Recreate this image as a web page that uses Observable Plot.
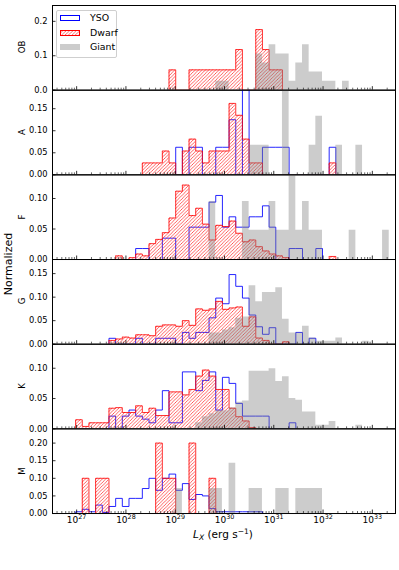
<!DOCTYPE html>
<html><head><meta charset="utf-8">
<script src="https://cdn.jsdelivr.net/npm/d3@7"></script>
<script src="https://cdn.jsdelivr.net/npm/@observablehq/plot@0.6"></script>
<style>
body{margin:0;background:#fff;}
#chart{position:relative;width:399px;height:570px;font-family:"DejaVu Sans",sans-serif;overflow:hidden;}
#chart svg.plotsvg{position:absolute;left:0;top:0;overflow:visible;}
.lab{position:absolute;white-space:nowrap;color:#000;z-index:5;}
.rot{transform:translate(-50%,-50%) rotate(-90deg);}
#legend{position:absolute;left:56px;top:10px;width:61px;height:48px;box-sizing:border-box;border:1px solid #cfcfcf;border-radius:2px;background:rgba(255,255,255,0.85);z-index:6;font-size:9.4px;}
.lrow{position:absolute;left:3px;height:10px;}
.lrow svg{position:absolute;left:0;top:2px;}
.lrow span{position:absolute;left:30px;top:-1px;}
</style></head>
<body>
<div id="chart"></div>
<script>
// ---- data (normalized histogram heights on a common log10 L_X bin grid) ----
const classes = ["OB", "A", "F", "G", "K", "M"];
const seriesNames = ["YSO", "Dwarf", "Giant"];
const binStart = 28.333;   // log10 of left edge of bin k = 0
const binWidth = 0.1354;   // dex per bin

const ysoOB   = {k0: 0, h: []};
const dwarfOB = {k0: 4, h: [0.059,0,0,0.059,0.059,0.059,0.059,0.059,0.059,0.059,0.118,0,0,0.176,0.118,0.059,0.059]};
const giantOB = {k0: 11, h: [0.026,0.026,0,0,0,0,0.105,0.079,0.132,0.105,0.105,0.026,0.079,0.132,0.053,0.053,0.026,0.026,0,0.026]};

const ysoA   = {k0: 5, h: [0.0625,0,0.0625,0.0625,0,0,0.0625,0.0625,0.125,0,0.25,0,0,0.0625,0.0625,0.0625,0.0625,0,0,0,0,0,0,0.0625]};
const dwarfA = {k0: 0, h: [0.027,0.027,0.027,0.054,0.027,0,0.054,0.081,0.054,0.027,0.054,0.054,0.054,0.162,0.135,0.081,0.027,0.027,0,0,0,0,0,0,0,0,0,0,0.027]};
const giantA = {k0: 16, h: [0.067,0.067,0.067,0,0,0.467,0,0,0,0.067,0.133,0,0,0.067,0,0,0.067]};

const ysoF   = {k0: -1, h: [0.018,0.018,0,0,0.035,0.035,0,0,0.053,0.053,0.053,0.094,0.105,0.053,0.07,0.053,0.053,0.07,0.07,0.088,0.053,0,0,0.018,0.018,0,0,0.018]};
const dwarfF = {k0: -4, h: [0.006,0,0.003,0.009,0.006,0.026,0.033,0.044,0.068,0.112,0.122,0.072,0.084,0.058,0.032,0.056,0.054,0.063,0.043,0.029,0.032,0.021,0.014,0.009,0.006,0.003,0,0,0,0,0,0,0.005]};
const giantF = {k0: 10, h: [0.095,0,0,0,0,0.095,0.048,0.048,0.048,0.095,0.048,0.048,0.143,0.048,0.095,0.048,0.048,0,0,0,0,0.048,0,0,0,0,0.048]};

const ysoG   = {k0: -5, h: [0.0125,0,0,0,0.0125,0,0,0.0125,0.0125,0.0125,0,0.025,0.0125,0.025,0.025,0.056,0.098,0.086,0.148,0.123,0.098,0.062,0.037,0.021,0.035,0,0,0,0.025,0,0.0125]};
const dwarfG = {k0: -5, h: [0.008,0.011,0.015,0.013,0.02,0.02,0.018,0.038,0.041,0.041,0.038,0.05,0.04,0.075,0.072,0.075,0.091,0.074,0.077,0.079,0.038,0.058,0.013,0.008,0,0,0.005]};
const giantG = {k0: 10, h: [0.024,0.024,0.03,0.035,0.055,0.058,0.124,0.09,0.11,0.11,0.12,0.053,0.024,0.024,0.038,0.013,0.006,0.006,0.006,0.013,0,0,0,0.006]};

const ysoK   = {k0: -5, h: [0.021,0,0.021,0.031,0.021,0.016,0.01,0.031,0.063,0.01,0.01,0.094,0.094,0.063,0.08,0.094,0.031,0.085,0.075,0.042,0.021,0.021,0.021,0.021,0,0,0,0.01]};
const dwarfK = {k0: -10, h: [0.015,0.004,0.01,0.01,0.01,0.034,0.035,0.027,0.027,0.038,0.027,0.034,0.022,0.022,0.061,0.061,0.056,0.065,0.087,0.097,0.087,0.065,0.065,0.034,0.02,0.013,0.002]};
const giantK = {k0: 8, h: [0.01,0.02,0.025,0.03,0.03,0.035,0.044,0.046,0.095,0.095,0.095,0.099,0.078,0.086,0.05,0.047,0.028,0.028,0.006,0.006,0.012,0,0,0,0.006]};

const ysoM   = {k0: -14, h: [0,0,0,0,0.005,0.012,0.005,0.024,0.003,0.02,0.043,0.02,0.043,0.043,0.071,0.1,0.066,0.1,0.112,0.066,0.085,0.04,0.054,0.05,0.014,0.005,0.005,0.005,0.005,0.005,0.005,0.005,0,0,0,0,0,0,0,0,0,0,0,0,0,0,0,0,0,0,0,0,0]};
const dwarfM = {k0: -10, h: [0,0.1,0,0.1,0.1,0,0,0,0,0,0,0,0.2,0.1,0.1,0,0,0.2,0,0,0.1,0,0]};
const giantM = {k0: 5, h: [0.071,0,0,0,0,0.071,0.071,0,0.143,0,0,0.071,0.071,0,0,0.071,0.071,0,0.071,0.071,0.071,0.071]};

const yTicksOB = [0, 0.1, 0.2];
const yTicksA = [0, 0.05, 0.10, 0.15];
const yTicksF = [0, 0.05, 0.10];
const yTicksG = [0, 0.05, 0.10, 0.15];
const yTicksK = [0, 0.05, 0.10];
const yTicksM = [0, 0.05, 0.10, 0.15, 0.20];
const yMaxes = [0.246, 0.192, 0.1388, 0.180, 0.1397, 0.2405];
const xTickExponents = [27, 28, 29, 30, 31, 32, 33];

// ---- layout ----
const W = 399, H = 570, mL = 52, mR = 4;
const panelTop0 = 5, panelH = 84.67;
const xDomain = [10 ** 26.51, 10 ** 33.47];
const majorTicks = xTickExponents.map(e => 10 ** e);
const minorTicks = d3.range(26, 34).flatMap(e => d3.range(2, 10).map(m => m * 10 ** e))
  .filter(v => v > xDomain[0] && v < xDomain[1]);

const SVGNS = "http://www.w3.org/2000/svg";
function makeHatch(svg, id) {
  const s = 3.4;
  const defs = document.createElementNS(SVGNS, "defs");
  const pat = document.createElementNS(SVGNS, "pattern");
  pat.setAttribute("id", id);
  pat.setAttribute("patternUnits", "userSpaceOnUse");
  pat.setAttribute("x", "0");
  pat.setAttribute("y", "0");
  pat.setAttribute("width", s);
  pat.setAttribute("height", s);
  const path = document.createElementNS(SVGNS, "path");
  path.setAttribute("d", `M0,${s} L${s},0 M${-s/2},${s/2} L${s/2},${-s/2} M${s/2},${s*1.5} L${s*1.5},${s/2}`);
  path.setAttribute("stroke", "#ff2a2a");
  path.setAttribute("stroke-width", "0.75");
  path.setAttribute("fill", "none");
  pat.appendChild(path);
  defs.appendChild(pat);
  svg.insertBefore(defs, svg.firstChild);
}

function steps(s) {
  const e = i => 10 ** (binStart + (s.k0 + i) * binWidth);
  if (!s.h.length) return [];
  const pts = [{x: e(0), y: 0}];
  s.h.forEach((v, i) => { pts.push({x: e(i), y: v}, {x: e(i + 1), y: v}); });
  pts.push({x: e(s.h.length), y: 0});
  return pts;
}

const panels = [
  {name: "OB", yso: ysoOB, dwarf: dwarfOB, giant: giantOB, ticks: yTicksOB, fmt: d3.format(".1f")},
  {name: "A", yso: ysoA, dwarf: dwarfA, giant: giantA, ticks: yTicksA, fmt: d3.format(".2f")},
  {name: "F", yso: ysoF, dwarf: dwarfF, giant: giantF, ticks: yTicksF, fmt: d3.format(".2f")},
  {name: "G", yso: ysoG, dwarf: dwarfG, giant: giantG, ticks: yTicksG, fmt: d3.format(".2f")},
  {name: "K", yso: ysoK, dwarf: dwarfK, giant: giantK, ticks: yTicksK, fmt: d3.format(".2f")},
  {name: "M", yso: ysoM, dwarf: dwarfM, giant: giantM, ticks: yTicksM, fmt: d3.format(".2f")}
];

const chart = document.getElementById("chart");

panels.forEach((p, i) => {
  const top = panelTop0 + i * panelH;
  const bottom = top + panelH;
  const last = i === panels.length - 1;
  const yso = steps(p.yso), dwarf = steps(p.dwarf), giant = steps(p.giant);
  const frame = Plot.frame({stroke: "#000", strokeWidth: 1});
  const histMarks = [
    Plot.line(yso, {x: "x", y: "y", stroke: "#0000ff", strokeWidth: 1, strokeOpacity: 0.85, clip: true}),
    Plot.areaY(dwarf, {x: "x", y1: 0, y2: "y", fill: "#ffdddd", className: "dwarfhatch", clip: true}),
    Plot.line(dwarf, {x: "x", y: "y", stroke: "#ff0000", strokeWidth: 1, strokeOpacity: 0.8, clip: true}),
    Plot.areaY(giant, {x: "x", y1: 0, y2: "y", fill: "#808080", fillOpacity: 0.4, clip: true})
  ];
  const marks = [
    ...(last ? [frame] : []),
    ...histMarks,
    ...(last ? [] : [frame]),
    Plot.axisY({ticks: p.ticks, anchor: "left", tickSize: -3.5, tickPadding: 8.5, tickFormat: p.fmt, fontSize: 8.3, strokeWidth: 0.8, label: null}),
    Plot.axisX({ticks: majorTicks, anchor: "bottom", tickSize: -3.5, fill: "none", strokeWidth: 0.8, label: null}),
    Plot.axisX({ticks: minorTicks, anchor: "bottom", tickSize: -2, fill: "none", strokeWidth: 0.6, label: null})
  ];
  if (last) {
    marks.push(Plot.axisX({ticks: majorTicks, anchor: "bottom", tickSize: 0, tickPadding: 3, fontSize: 9,
      tickFormat: d => "10^" + Math.round(Math.log10(d)), label: null}));
  }
  const svg = Plot.plot({
    width: W, height: H,
    marginLeft: mL, marginRight: mR, marginTop: top, marginBottom: H - bottom,
    style: {background: "transparent", fontFamily: "DejaVu Sans", overflow: "visible"},
    x: {type: "log", domain: xDomain, axis: null},
    y: {domain: [0, yMaxes[i]], axis: null},
    marks
  });
  svg.classList.add("plotsvg");
  const hid = "hatchpat" + i;
  makeHatch(svg, hid);
  // apply hatch fill to the dwarf area (the only area filled #ffdddd)
  svg.querySelectorAll("path, g").forEach(el => {
    const f = (el.getAttribute("fill") || "").toLowerCase();
    if (f === "#ffdddd") {
      el.setAttribute("fill", `url(#${hid})`);
      el.querySelectorAll("path").forEach(pp => pp.setAttribute("fill", `url(#${hid})`));
    }
  });
  if (last) {
    svg.querySelectorAll('[aria-label="x-axis tick label"] text').forEach(t => {
      const parts = t.textContent.split("^");
      if (parts.length === 2) {
        t.textContent = parts[0];
        const ts = document.createElementNS(SVGNS, "tspan");
        ts.setAttribute("dy", "-4.3");
        ts.setAttribute("font-size", "6.4");
        ts.textContent = parts[1];
        t.appendChild(ts);
      }
    });
  }
  chart.appendChild(svg);
  const lab = document.createElement("div");
  lab.className = "lab rot";
  lab.style.left = "21.5px";
  lab.style.top = (top + panelH / 2) + "px";
  lab.style.fontSize = "8.6px";
  lab.textContent = p.name;
  chart.appendChild(lab);
});

const yl = document.createElement("div");
yl.className = "lab rot";
yl.style.left = "8px"; yl.style.top = "264px"; yl.style.fontSize = "11px";
yl.textContent = "Normalized";
chart.appendChild(yl);

const xl = document.createElement("div");
xl.className = "lab";
xl.style.left = "223px"; xl.style.top = "534px"; xl.style.fontSize = "10.5px";
xl.style.transform = "translate(-50%,-50%)";
xl.innerHTML = '<i>L</i><i style="font-size:0.72em;position:relative;top:0.28em">X</i> (erg s<span style="font-size:0.72em;position:relative;top:-0.5em">\u22121</span>)';
chart.appendChild(xl);

const legend = document.createElement("div");
legend.id = "legend";
const legSvgs = [];
seriesNames.forEach((n, j) => {
  const row = document.createElement("div");
  row.className = "lrow";
  row.style.top = (2 + j * 14.5) + "px";
  const s = document.createElementNS(SVGNS, "svg");
  s.setAttribute("width", "20"); s.setAttribute("height", "6");
  const r = document.createElementNS(SVGNS, "rect");
  if (j === 0) { r.setAttribute("x", "0.5"); r.setAttribute("y", "0.5"); r.setAttribute("width", "19"); r.setAttribute("height", "5"); r.setAttribute("fill", "none"); r.setAttribute("stroke", "#0000ff"); }
  if (j === 1) { makeHatch(s, "hatchLeg"); r.setAttribute("x", "0.5"); r.setAttribute("y", "0.5"); r.setAttribute("width", "19"); r.setAttribute("height", "5"); r.setAttribute("fill", "url(#hatchLeg)"); r.setAttribute("stroke", "#ff0000"); }
  if (j === 2) { r.setAttribute("x", "0"); r.setAttribute("y", "0"); r.setAttribute("width", "20"); r.setAttribute("height", "6"); r.setAttribute("fill", "#808080"); r.setAttribute("fill-opacity", "0.4"); }
  s.appendChild(r);
  row.appendChild(s);
  const sp = document.createElement("span");
  sp.textContent = n;
  row.appendChild(sp);
  legend.appendChild(row);
});
chart.appendChild(legend);
</script>
</body></html>
